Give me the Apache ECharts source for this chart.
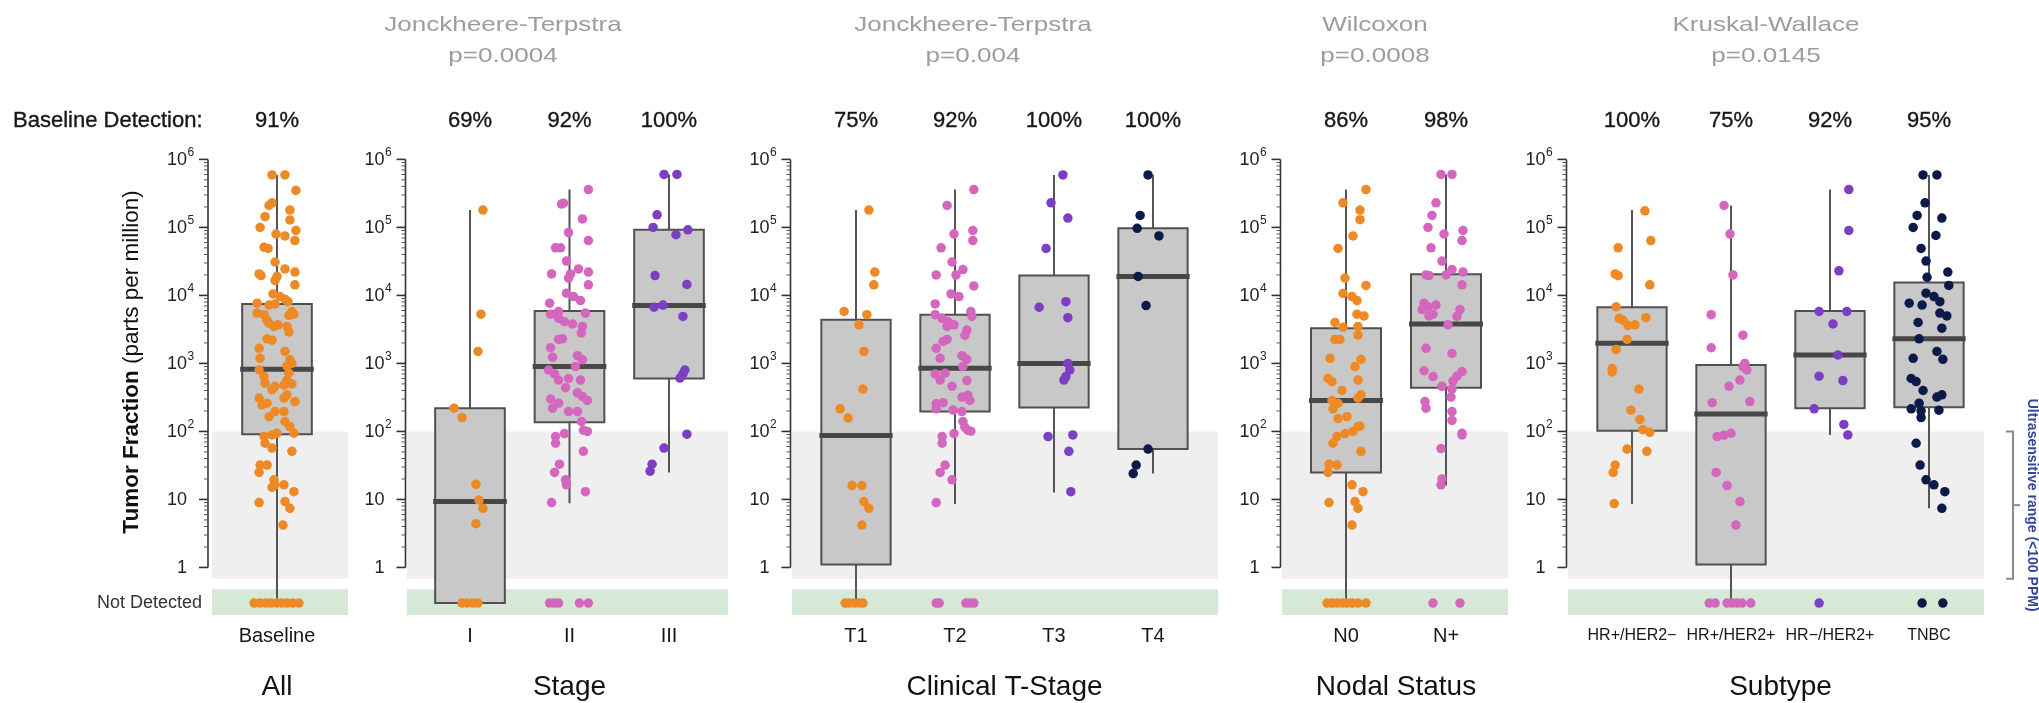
<!DOCTYPE html>
<html><head><meta charset="utf-8">
<script src="https://cdn.jsdelivr.net/npm/echarts@6/dist/echarts.min.js"></script>
<style>html,body{margin:0;padding:0;background:#fff}#c{width:2039px;height:703px}</style>
</head><body><div id="c"></div>
<script>
// ---------------- DATA ----------------
const PANEL_TITLES = ['All', 'Stage', 'Clinical T-Stage', 'Nodal Status', 'Subtype'];
const TEST_NAMES = ['', 'Jonckheere-Terpstra', 'Jonckheere-Terpstra', 'Wilcoxon', 'Kruskal-Wallace'];
const TEST_P = ['', 'p=0.0004', 'p=0.004', 'p=0.0008', 'p=0.0145'];

const CATS_ALL = ['Baseline'];
const CATS_STAGE = ['I', 'II', 'III'];
const CATS_T = ['T1', 'T2', 'T3', 'T4'];
const CATS_N = ['N0', 'N+'];
const CATS_SUB = ['HR+/HER2\u2212', 'HR+/HER2+', 'HR\u2212/HER2+', 'TNBC'];

const DET_ALL = ['91%'];
const DET_STAGE = ['69%', '92%', '100%'];
const DET_T = ['75%', '92%', '100%', '100%'];
const DET_N = ['86%', '98%'];
const DET_SUB = ['100%', '75%', '92%', '95%'];

const ND_LEVEL = 0.3;          // value at which "Not Detected" samples are plotted
const GREY_RANGE = [0.68, 100]; // ultrasensitive range (<100 PPM)
const GREEN_RANGE = [0.2, 0.48];// "Not Detected" band
const Y_TICKS = [1, 10, 100, 1e3, 1e4, 1e5, 1e6];

// box stats: [lower whisker, Q1, median, Q3, upper whisker]
const BOX_ALL = [[0.3, 91, 821, 7500, 5.9e5]];
const BOX_STAGE = [[0.3, 0.3, 9.3, 220, 1.8e5], [8.8, 136, 900, 5900, 3.6e5], [25, 600, 7100, 9.2e4, 6.0e5]];
const BOX_T = [[0.3, 1.11, 87, 4400, 1.8e5], [8.6, 196, 850, 5200, 3.6e5], [12.6, 224, 1000, 1.96e4, 5.9e5], [24, 55, 1.9e4, 9.7e4, 5.9e5]];
const BOX_N = [[0.3, 25, 284, 3300, 3.6e5], [16, 440, 3800, 2.05e4, 6.0e5]];
const BOX_SUB = [[8.6, 102, 1980, 6700, 1.8e5], [0.3, 1.11, 181, 950, 2.1e5], [89, 219, 1330, 5900, 3.6e5], [7.4, 227, 2300, 1.55e4, 5.9e5]];

// detected samples: [jitter offset within category, tumor fraction ppm]
const PTS_BASELINE = [[-0.05,5.9e5],[0.08,5.9e5],[0.19,3.5e5],[-0.05,2.3e5],[-0.08,2.1e5],[0.13,1.8e5],[-0.12,1.44e5],[0.13,1.29e5],[-0.17,1.0e5],[0.19,9.0e4],[-0.01,8.0e4],[0.08,7.5e4],[0.18,6.4e4],[-0.13,5.1e4],[-0.09,4.9e4],[-0.02,3.1e4],[0.08,2.45e4],[-0.18,2.07e4],[-0.16,1.96e4],[0.18,2.2e4],[0,1.9e4],[-0.02,1.65e4],[0.18,1.43e4],[-0.04,1.05e4],[0.03,9.6e3],[0.08,8.8e3],[0.11,8.1e3],[-0.2,7.7e3],[-0.08,7.2e3],[-0.02,7.5e3],[0.15,5.8e3],[0.17,5.3e3],[0.12,5.1e3],[-0.2,5.5e3],[-0.13,5.2e3],[-0.1,4.3e3],[-0.08,3.9e3],[-0.03,3.5e3],[0.01,3.7e3],[0.1,3.5e3],[0.12,2.9e3],[-0.1,2.3e3],[-0.05,2.2e3],[-0.18,1.67e3],[-0.17,1.19e3],[0.08,1.5e3],[0.13,1.13e3],[0.15,1.0e3],[0.1,920],[-0.18,800],[-0.13,640],[-0.12,510],[0.12,720],[0.1,570],[0.07,480],[0.15,500],[-0.02,460],[-0.05,410],[-0.18,310],[-0.15,245],[-0.1,260],[0.1,345],[0.18,275],[0.07,310],[-0.08,165],[-0.02,196],[0.07,196],[0.08,140],[0.13,118],[0.17,94],[-0.13,84],[-0.05,89],[0,94],[-0.12,67],[-0.05,57],[0.15,51],[-0.17,32],[-0.1,32],[-0.18,25],[-0.03,19.4],[-0.02,16.4],[-0.05,15.1],[0.07,16.4],[0.17,13],[-0.18,9.0],[0.08,9.3],[0.13,7.4],[0.06,4.2]];
const ND_BASELINE = [-0.23,-0.17,-0.11,-0.06,0,0.05,0.1,0.16,0.22];

const PTS_I = [[0.13,1.8e5],[0.11,5.3e3],[0.08,1.5e3],[-0.16,220],[-0.08,160],[0.06,16.7],[0.09,9.8],[0.13,7.4],[0.06,4.4]];
const ND_I = [-0.08,-0.03,0.03,0.08];
const PTS_II = [[0.19,3.6e5],[-0.06,2.27e5],[-0.08,2.2e5],[0.13,1.33e5],[-0.01,8.4e4],[0.19,6.4e4],[-0.14,5.0e4],[-0.09,5.0e4],[-0.03,3.2e4],[-0.18,2.07e4],[0.01,2.07e4],[0.09,2.45e4],[-0.01,1.8e4],[0.19,2.2e4],[0.19,1.43e4],[-0.03,1.08e4],[0.04,9.6e3],[0.11,8.4e3],[-0.2,7.7e3],[0.16,5.5e3],[-0.19,5.3e3],[-0.11,5.8e3],[-0.11,4.6e3],[-0.05,4.1e3],[0.03,3.8e3],[0.13,3.5e3],[0.12,2.8e3],[-0.07,2.3e3],[-0.11,2.25e3],[-0.19,1.7e3],[-0.17,1.23e3],[0.08,1.3e3],[0.13,1.13e3],[0.06,900],[-0.21,800],[-0.15,700],[-0.11,570],[0.11,570],[-0.01,600],[-0.04,440],[0.08,370],[0.13,325],[0.18,285],[-0.19,300],[-0.17,220],[-0.11,260],[-0.01,196],[0.08,196],[0.12,140],[0.14,104],[0.18,100],[-0.14,84],[-0.05,93],[-0.14,67],[0.14,51],[-0.1,33],[-0.15,25],[-0.04,19.4],[-0.03,16.4],[0.16,13],[-0.18,9.0]];
const ND_II = [-0.2,-0.15,-0.11,0.1,0.19];
const PTS_III = [[-0.05,6.0e5],[0.08,6.0e5],[-0.12,1.53e5],[-0.16,1.0e5],[0.07,7.8e4],[0.19,9.2e4],[-0.14,1.96e4],[0.18,1.45e4],[-0.15,6.7e3],[-0.06,7.2e3],[0.14,4.9e3],[0.16,800],[0.14,700],[0.11,610],[0.18,91],[-0.05,57],[-0.17,33],[-0.19,26]];
const ND_III = [];

const PTS_T1 = [[0.13,1.8e5],[0.19,2.2e4],[0.18,1.43e4],[-0.12,5.8e3],[0.11,5.2e3],[0.03,3.7e3],[0.08,1.5e3],[0.07,420],[-0.16,215],[-0.08,157],[-0.04,16],[0.06,16],[0.08,9.3],[0.13,7.4],[0.06,4.2]];
const ND_T1 = [-0.11,-0.07,-0.02,0.03,0.07];
const PTS_T2 = [[0.19,3.6e5],[-0.08,2.1e5],[-0.01,8.0e4],[0.18,9.0e4],[0.18,6.4e4],[-0.14,5.0e4],[-0.03,3.1e4],[0.08,2.4e4],[0.01,2.0e4],[-0.19,2.0e4],[0.19,1.38e4],[-0.04,1.05e4],[0.04,9.6e3],[-0.2,7.5e3],[0.16,5.8e3],[0.17,4.9e3],[-0.2,5.2e3],[-0.13,4.6e3],[-0.07,4.1e3],[-0.01,3.7e3],[-0.08,3.5e3],[0.12,3.1e3],[0.1,2.6e3],[-0.08,2.25e3],[-0.12,2.1e3],[-0.19,1.67e3],[-0.15,1.19e3],[0.07,1.3e3],[0.12,1.15e3],[0.08,900],[-0.2,700],[-0.15,570],[-0.1,720],[0.12,560],[-0.03,460],[0.07,320],[0.13,340],[0.15,285],[-0.19,255],[-0.12,265],[-0.19,215],[-0.02,206],[0.07,196],[0.08,140],[0.1,115],[0.16,101],[0.13,104],[-0.13,84],[-0.01,93],[-0.13,67],[-0.1,32],[-0.15,25],[-0.03,19.4],[-0.19,9.0]];
const ND_T2 = [-0.19,-0.16,0.11,0.15,0.19];
const PTS_T3 = [[0.09,5.9e5],[-0.03,2.3e5],[0.14,1.37e5],[-0.08,4.9e4],[-0.15,6.7e3],[0.12,8.1e3],[0.14,4.7e3],[0.14,1.0e3],[0.16,800],[0.12,640],[0.1,570],[-0.06,84],[0.19,89],[0.15,51],[0.17,13]];
const ND_T3 = [];
const PTS_T4 = [[-0.05,5.9e5],[-0.13,1.5e5],[-0.16,9.7e4],[0.06,7.5e4],[-0.15,1.9e4],[-0.07,7.1e3],[-0.05,55],[-0.17,32],[-0.2,24]];
const ND_T4 = [];

const PTS_N0 = [[0.2,3.6e5],[-0.03,2.3e5],[0.14,1.8e5],[0.14,1.3e5],[0.07,7.5e4],[-0.08,4.9e4],[-0.01,1.8e4],[0.2,1.4e4],[-0.03,1.07e4],[0.06,9.6e3],[0.11,8.4e3],[0.11,5.3e3],[0.18,5.0e3],[-0.11,4.0e3],[-0.03,3.4e3],[0.12,3.5e3],[0.12,2.6e3],[-0.11,2.25e3],[-0.06,2.25e3],[-0.16,1.19e3],[0.15,1.15e3],[0.09,900],[-0.18,600],[-0.14,540],[0.12,570],[-0.04,400],[0.15,345],[-0.14,285],[-0.08,260],[-0.13,215],[0.12,310],[0.14,120],[0.01,165],[-0.08,155],[0.07,100],[0.12,118],[-0.01,93],[-0.09,84],[-0.13,67],[0.15,51],[-0.17,33],[-0.09,32],[-0.18,25],[0.06,16.4],[0.17,13],[-0.17,9.0],[0.09,9.3],[0.12,7.4],[0.06,4.2]];
const ND_N0 = [-0.19,-0.14,-0.09,-0.04,0.01,0.06,0.12,0.2];
const PTS_NP = [[-0.05,6.0e5],[0.06,6.0e5],[-0.1,2.3e5],[-0.14,1.5e5],[-0.18,1.0e5],[0.17,9.0e4],[0.16,6.4e4],[-0.02,8.0e4],[-0.15,5.0e4],[-0.04,3.2e4],[-0.2,2.0e4],[-0.17,1.96e4],[0,2.0e4],[0.06,2.4e4],[0.17,2.2e4],[0.16,1.43e4],[-0.22,7.7e3],[-0.18,6.8e3],[-0.1,7.2e3],[-0.24,6.2e3],[-0.13,5.3e3],[-0.17,5.0e3],[0.14,6.2e3],[0.11,4.9e3],[0.02,3.7e3],[-0.2,1.67e3],[0.06,1.4e3],[-0.22,780],[-0.13,640],[0.16,760],[0.11,650],[0.07,550],[-0.04,460],[0.06,420],[0.05,320],[-0.21,275],[-0.2,220],[0.06,196],[0.06,145],[0.16,94],[0.16,89],[-0.05,56],[-0.04,20],[-0.05,16.4]];
const ND_NP = [-0.13,0.14];

const PTS_HRPOS_NEG = [[0.13,1.75e5],[0.19,6.4e4],[-0.14,5.0e4],[-0.17,2.07e4],[-0.14,1.95e4],[0.18,1.43e4],[-0.16,6.8e3],[-0.13,4.6e3],[-0.09,4.3e3],[-0.04,3.6e3],[0.03,3.7e3],[0.14,4.7e3],[-0.05,2.25e3],[-0.16,1.6e3],[-0.2,840],[-0.2,750],[0.07,420],[-0.01,205],[0.08,150],[0.11,106],[0.18,97],[-0.05,55],[0.15,51],[-0.17,32],[-0.19,25],[-0.18,8.7]];
const ND_HRPOS_NEG = [];
const PTS_HRPOS_POS = [[-0.07,2.1e5],[-0.01,8.0e4],[0.02,2.0e4],[-0.2,5.2e3],[0.12,2.6e3],[-0.2,1.7e3],[0.14,1.0e3],[0.12,900],[0.16,800],[0.09,570],[-0.02,460],[-0.19,265],[0.19,275],[-0.14,84],[-0.07,88],[0,94],[-0.15,25],[-0.04,16],[0.09,9.3],[0.05,4.2]];
const ND_HRPOS_POS = [-0.22,-0.16,-0.04,0.01,0.06,0.11,0.2];
const PTS_HRNEG_POS = [[0.19,3.6e5],[0.19,9.0e4],[0.09,2.3e4],[-0.11,5.8e3],[0.17,5.8e3],[0.03,3.8e3],[0.08,1.33e3],[-0.11,650],[0.13,560],[-0.16,215],[0.14,127],[0.18,89]];
const ND_HRNEG_POS = [-0.11];
const PTS_TNBC = [[-0.06,5.9e5],[0.08,5.9e5],[-0.04,2.3e5],[-0.12,1.5e5],[0.13,1.37e5],[-0.16,1.0e5],[0.07,7.6e4],[-0.08,4.9e4],[-0.03,3.2e4],[0.19,2.2e4],[-0.02,1.85e4],[0.2,1.4e4],[-0.03,1.08e4],[0.05,9.6e3],[0.11,8.1e3],[-0.2,7.7e3],[-0.07,7.2e3],[0.11,5.5e3],[0.18,5.0e3],[-0.11,4.0e3],[0.13,3.3e3],[-0.1,2.3e3],[0.08,1.5e3],[0.14,1.15e3],[-0.16,1.19e3],[-0.18,600],[-0.13,540],[-0.06,400],[0.08,320],[0.13,345],[-0.18,215],[-0.1,260],[-0.08,200],[-0.08,160],[0.1,205],[-0.13,67],[-0.09,32],[-0.03,19.4],[0.05,16.4],[0.16,13],[0.13,7.4]];
const ND_TNBC = [-0.07,0.14];

// ---------------- STYLE / LAYOUT ----------------
const FONT = "'Liberation Sans', Arial, Helvetica, sans-serif";
const C_OR = '#EE8A25', C_PK = '#D466BE', C_PU = '#7C3EC2', C_NV = '#0B1A48';
const BOX_HALF = 0.35;

const PANELS = [
  {cats: CATS_ALL, det: DET_ALL, boxes: BOX_ALL, pts: [PTS_BASELINE], nd: [ND_BASELINE], colors: [C_OR],
   lay: {left: 212, right: 348, c0: 277, sp: 99.5, gap: 4, catFont: 20}},
  {cats: CATS_STAGE, det: DET_STAGE, boxes: BOX_STAGE, pts: [PTS_I, PTS_II, PTS_III], nd: [ND_I, ND_II, ND_III], colors: [C_OR, C_PK, C_PU],
   lay: {left: 407, right: 728, c0: 470, sp: 99.5, gap: 1.5, catFont: 20, testX: 503}},
  {cats: CATS_T, det: DET_T, boxes: BOX_T, pts: [PTS_T1, PTS_T2, PTS_T3, PTS_T4], nd: [ND_T1, ND_T2, ND_T3, ND_T4], colors: [C_OR, C_PK, C_PU, C_NV],
   lay: {left: 792, right: 1218, c0: 856, sp: 99, gap: 1.5, catFont: 20, testX: 973}},
  {cats: CATS_N, det: DET_N, boxes: BOX_N, pts: [PTS_N0, PTS_NP], nd: [ND_N0, ND_NP], colors: [C_OR, C_PK],
   lay: {left: 1282, right: 1508, c0: 1346, sp: 100, gap: 1.5, catFont: 20, testX: 1375}},
  {cats: CATS_SUB, det: DET_SUB, boxes: BOX_SUB, pts: [PTS_HRPOS_NEG, PTS_HRPOS_POS, PTS_HRNEG_POS, PTS_TNBC], nd: [ND_HRPOS_NEG, ND_HRPOS_POS, ND_HRNEG_POS, ND_TNBC], colors: [C_OR, C_PK, C_PU, C_NV],
   lay: {left: 1568, right: 1984, c0: 1632, sp: 99, gap: 1.5, catFont: 16, testX: 1766, bracket: true}}
];

const GRID_TOP = 154, GRID_H = 461;
const Y_PCT = 121, Y_CAT = 636, Y_TITLE = 687;
const DARK = '#161616';

function decorRender(k) {
  const lay = PANELS[k].lay;
  return function (params, api) {
    const cs = params.coordSys;
    const yOf = v => api.coord([0, v])[1];
    const ch = [];
    const gT = yOf(GREY_RANGE[1]), gB = yOf(GREY_RANGE[0]);
    ch.push({type: 'rect', shape: {x: cs.x, y: gT, width: cs.width, height: gB - gT}, style: {fill: '#efefef'}});
    const nT = yOf(GREEN_RANGE[1]), nB = yOf(GREEN_RANGE[0]);
    ch.push({type: 'rect', shape: {x: cs.x, y: nT, width: cs.width, height: nB - nT}, style: {fill: '#d5e9d6'}});
    const ax = cs.x - lay.gap;
    ch.push({type: 'line', shape: {x1: ax, y1: yOf(Y_TICKS[0]), x2: ax, y2: yOf(Y_TICKS[Y_TICKS.length - 1])}, style: {stroke: '#333', lineWidth: 1.6}});
    Y_TICKS.forEach((t, idx) => {
      const y = yOf(t);
      ch.push({type: 'line', shape: {x1: ax - 9, y1: y, x2: ax, y2: y}, style: {stroke: '#333', lineWidth: 1.6}});
      if (idx < Y_TICKS.length - 1) {
        for (let m = 2; m <= 9; m++) {
          const ym = yOf(t * m);
          ch.push({type: 'line', shape: {x1: ax - 4, y1: ym, x2: ax, y2: ym}, style: {stroke: '#555', lineWidth: 1}});
        }
      }
      const exp = Math.round(Math.log10(t));
      const base = exp <= 1 ? String(t) : '10';
      ch.push({type: 'text', style: {text: base, x: ax - 21, y: y + 1, fill: '#222', font: '18px ' + FONT, align: 'right', verticalAlign: 'middle', textAlign: 'right', textVerticalAlign: 'middle'}});
      if (exp > 1) {
        ch.push({type: 'text', style: {text: String(exp), x: ax - 20.5, y: y - 7, fill: '#222', font: '12px ' + FONT, align: 'left', verticalAlign: 'middle', textAlign: 'left', textVerticalAlign: 'middle'}});
      }
    });
    if (lay.bracket) {
      const bx = cs.x + cs.width + 29;
      const bT = yOf(GREY_RANGE[1]), bB = yOf(GREY_RANGE[0]), bM = (bT + bB) / 2;
      const st = {stroke: '#8a8a8a', lineWidth: 2};
      ch.push({type: 'polyline', shape: {points: [[bx - 7, bT], [bx, bT], [bx, bB], [bx - 7, bB]]}, style: Object.assign({fill: null}, st)});
      ch.push({type: 'line', shape: {x1: bx, y1: bM, x2: bx + 7, y2: bM}, style: st});
      ch.push({type: 'text', rotation: -Math.PI / 2, x: bx + 19, y: bM,
        style: {text: 'Ultrasensitive range (<100 PPM)', x: 0, y: 0, fill: '#35469a', font: 'bold 14px ' + FONT, align: 'center', verticalAlign: 'middle', textAlign: 'center', textVerticalAlign: 'middle'}});
    }
    return {type: 'group', children: ch};
  };
}

function boxRender(k) {
  const p = PANELS[k];
  return function (params, api) {
    const i = api.value(0);
    const lo = api.value(1), q1 = api.value(2), md = api.value(3), q3 = api.value(4), hi = api.value(5);
    const cx = api.coord([i, md])[0];
    const xl = api.coord([i - BOX_HALF, md])[0], xr = api.coord([i + BOX_HALF, md])[0];
    const y = v => api.coord([i, v])[1];
    const ch = [];
    ch.push({type: 'line', shape: {x1: cx, y1: y(hi), x2: cx, y2: y(lo)}, style: {stroke: '#555', lineWidth: 2}});
    ch.push({type: 'rect', shape: {x: xl, y: y(q3), width: xr - xl, height: y(q1) - y(q3)}, style: {fill: '#c8c8c8', stroke: '#505050', lineWidth: 2}});
    ch.push({type: 'line', shape: {x1: xl - 2, y1: y(md), x2: xr + 2, y2: y(md)}, style: {stroke: '#474747', lineWidth: 5}});
    ch.push({type: 'text', style: {text: p.cats[i], x: cx, y: Y_CAT, fill: DARK, font: p.lay.catFont + 'px ' + FONT, align: 'center', verticalAlign: 'middle', textAlign: 'center', textVerticalAlign: 'middle'}});
    ch.push({type: 'text', style: {text: p.det[i], x: cx, y: Y_PCT, fill: DARK, stroke: DARK, lineWidth: 0.35, font: '22px ' + FONT, align: 'center', verticalAlign: 'middle', textAlign: 'center', textVerticalAlign: 'middle'}});
    return {type: 'group', children: ch};
  };
}

const option = {animation: false, backgroundColor: '#fff', grid: [], xAxis: [], yAxis: [], series: [], graphic: []};

PANELS.forEach((p, k) => {
  const L = p.lay;
  option.grid.push({left: L.left, width: L.right - L.left, top: GRID_TOP, height: GRID_H});
  option.xAxis.push({type: 'value', gridIndex: k, min: (L.left - L.c0) / L.sp, max: (L.right - L.c0) / L.sp, show: false});
  option.yAxis.push({type: 'log', logBase: 10, gridIndex: k, min: 0.2, max: 1.2e6, show: false});
  option.series.push({type: 'custom', xAxisIndex: k, yAxisIndex: k, silent: true, z: 1, data: [[0, 1]], renderItem: decorRender(k)});
  option.series.push({type: 'custom', xAxisIndex: k, yAxisIndex: k, silent: true, z: 2,
    dimensions: ['i', 'lo', 'q1', 'md', 'q3', 'hi'], encode: {x: 0, y: 3},
    data: p.boxes.map((b, i) => [i].concat(b)), renderItem: boxRender(k)});
  p.pts.forEach((arr, i) => {
    option.series.push({type: 'scatter', xAxisIndex: k, yAxisIndex: k, z: 3, symbolSize: 9.5,
      itemStyle: {color: p.colors[i], opacity: 1},
      data: arr.map(d => [i + d[0], d[1]]).concat(p.nd[i].map(o => [i + o, ND_LEVEL]))});
  });
  const titleX = L.c0 + (p.cats.length - 1) * L.sp / 2;
  option.graphic.push({type: 'text', x: titleX, y: Y_TITLE,
    style: {text: PANEL_TITLES[k], fill: '#111', font: '28px ' + FONT, align: 'center', verticalAlign: 'middle', textAlign: 'center', textVerticalAlign: 'middle'}});
  if (TEST_NAMES[k]) {
    [[TEST_NAMES[k], 25], [TEST_P[k], 56]].forEach(([t, yy]) => {
      option.graphic.push({type: 'text', x: L.testX, y: yy, scaleX: 1.24,
        style: {text: t, fill: '#9d9d9d', font: '21px ' + FONT, align: 'center', verticalAlign: 'middle', textAlign: 'center', textVerticalAlign: 'middle'}});
    });
  }
});

option.graphic.push({type: 'text', x: 13, y: Y_PCT,
  style: {text: 'Baseline Detection:', fill: DARK, stroke: DARK, lineWidth: 0.35, font: '22px ' + FONT, align: 'left', verticalAlign: 'middle', textAlign: 'left', textVerticalAlign: 'middle'}});
option.graphic.push({type: 'text', x: 202, y: 603,
  style: {text: 'Not Detected', fill: '#333', font: '18px ' + FONT, align: 'right', verticalAlign: 'middle', textAlign: 'right', textVerticalAlign: 'middle'}});
option.graphic.push({type: 'text', x: 132, y: 362, rotation: Math.PI / 2,
  style: {text: '{b|Tumor Fraction} (parts per million)', fill: '#111', fontSize: 22.5, fontFamily: FONT,
    rich: {b: {fontWeight: 'bold', fontSize: 22.5, fontFamily: FONT, fill: '#111'}},
    align: 'center', verticalAlign: 'middle', textAlign: 'center', textVerticalAlign: 'middle'}});

const chart = echarts.init(document.getElementById('c'), null, {renderer: 'canvas', width: 2039, height: 703});
chart.setOption(option);
</script></body></html>
